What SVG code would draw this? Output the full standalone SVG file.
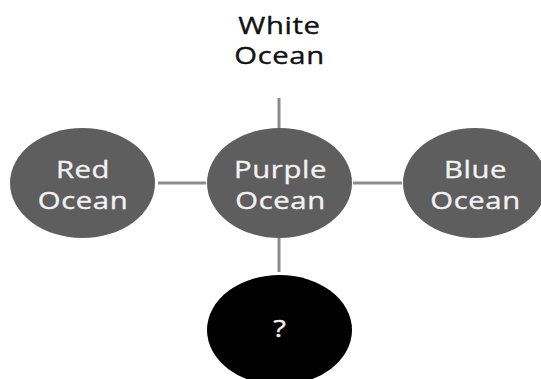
<svg xmlns="http://www.w3.org/2000/svg" width="541" height="379" viewBox="0 0 541 379">
<style>
.node{fill:#5e5e5e}
.dark{fill:#000}
.lbl{font-family:"Open Sans","DejaVu Sans",sans-serif;font-size:24px;letter-spacing:0.5px;text-anchor:middle;fill:#f2f2f2;stroke:#f2f2f2;stroke-width:0.35}
.top{fill:#111;stroke:#111}
.conn{stroke:#8c8c8c;stroke-width:3;fill:none}
</style>
<rect width="541" height="379" fill="#fff"/>
<g id="connectors">
<line class="conn" x1="158" y1="183" x2="206" y2="183"/>
<line class="conn" x1="353" y1="183" x2="402" y2="183"/>
<line class="conn" x1="279" y1="98" x2="279" y2="128"/>
<line class="conn" x1="279" y1="238" x2="279" y2="272"/>
</g>
<g id="white-ocean">
<text class="lbl top" transform="translate(279.5 0) scale(1.22 1)"><tspan x="0" y="34">White</tspan><tspan x="0" y="64.5">Ocean</tspan></text>
</g>
<g id="red-ocean">
<ellipse class="node" cx="82.5" cy="183" rx="72.5" ry="55"/>
<text class="lbl" transform="translate(83 0) scale(1.22 1)"><tspan x="0" y="178">Red</tspan><tspan x="0" y="209">Ocean</tspan></text>
</g>
<g id="purple-ocean">
<ellipse class="node" cx="279.5" cy="183" rx="72.5" ry="55"/>
<text class="lbl" transform="translate(280.5 0) scale(1.22 1)"><tspan x="0" y="178">Purple</tspan><tspan x="0" y="209">Ocean</tspan></text>
</g>
<g id="blue-ocean">
<ellipse class="node" cx="475" cy="183" rx="72" ry="55"/>
<text class="lbl" transform="translate(475.5 0) scale(1.22 1)"><tspan x="0" y="178">Blue</tspan><tspan x="0" y="209">Ocean</tspan></text>
</g>
<g id="unknown">
<ellipse class="dark" cx="279.5" cy="330" rx="72.5" ry="55"/>
<text class="lbl" transform="translate(280 0) scale(1.22 1)" x="0" y="337">?</text>
</g>
</svg>
